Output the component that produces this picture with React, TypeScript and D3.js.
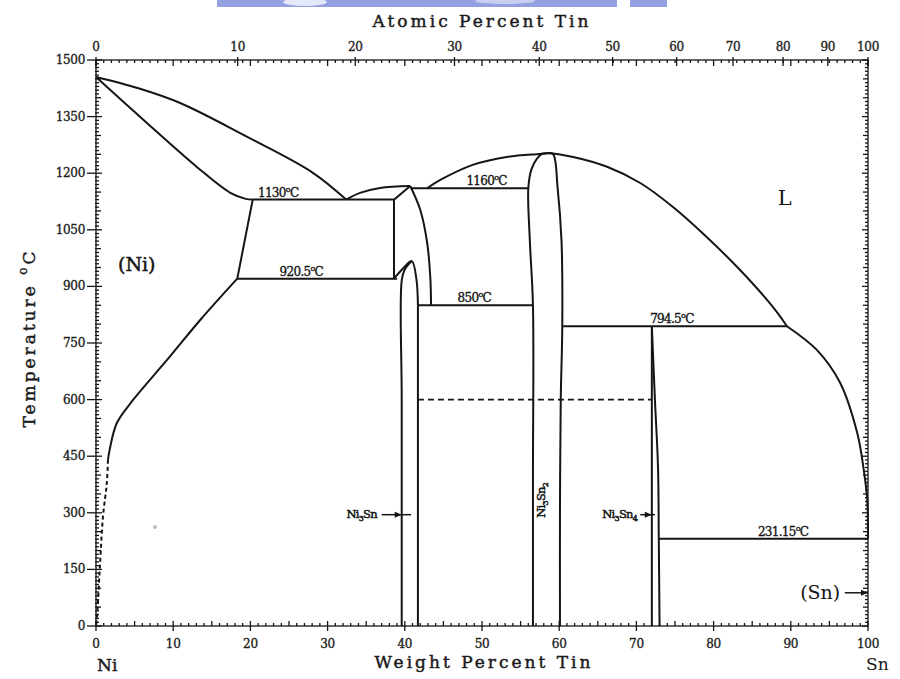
import { useEffect, useRef } from "react";
import * as d3 from "d3";

type Pt = [number, number];

// axis ticks
const weightTicks = [0, 10, 20, 30, 40, 50, 60, 70, 80, 90, 100];
const atomicTicks = [0, 10, 20, 30, 40, 50, 60, 70, 80, 90, 100];
const tempTicks = [0, 150, 300, 450, 600, 750, 900, 1050, 1200, 1350, 1500];

// phase boundaries, [wt% Sn, temperature C]
const niLiquidus: Pt[] = [[0, 1455], [5.5, 1425], [10.9, 1386], [19.6, 1296], [28.1, 1201], [32.4, 1130]];
const niSolidus: Pt[] = [[0, 1455], [6.6, 1333], [13.1, 1216], [17.4, 1148], [19.4, 1132], [20.3, 1130]];
const niSolvusHigh: Pt[] = [[20.3, 1130], [18.3, 920.5]];
const niSolvusLow: Pt[] = [[18.3, 920.5], [13.5, 811], [9.2, 705], [4.8, 599], [2.7, 538], [1.8, 470], [1.55, 440]];
const niSolvusDashed: Pt[] = [[1.55, 440], [1.4, 379], [0.9, 289], [0.5, 156], [0.15, 30], [0, 0]];
const ni3SnLiquidus: Pt[] = [[32.4, 1130], [34.2, 1148], [36.8, 1161], [40.7, 1166]];
const ni3SnHtLeft: Pt[] = [[40.7, 1166], [38.6, 1130], [38.6, 920.5]];
const ni3SnHtRight: Pt[] = [[40.7, 1166], [42.0, 1103], [42.9, 1015], [43.3, 925], [43.4, 850]];
const ni3SnLtOuter: Pt[] = [[38.6, 920.5], [39.8, 948], [40.9, 967], [41.5, 920], [41.7, 850]];
const ni3SnLtRight: Pt[] = [[41.7, 850], [41.7, 0]];
const ni3SnLtInner: Pt[] = [[39.6, 0], [39.6, 600], [39.6, 915], [40.0, 945], [40.9, 967]];
const ni3Sn2Field: Pt[] = [
  [56.6, 0], [56.6, 400], [56.6, 850], [56.2, 1020], [56.0, 1160], [56.4, 1210], [57.1, 1238],
  [57.8, 1251], [58.5, 1253], [59.2, 1251], [59.8, 1160], [60.3, 1020], [60.4, 794.5],
  [60.2, 600], [60.1, 300], [60.1, 0],
];
const ni3Sn2Liquidus: Pt[] = [
  [42.9, 1160], [44.6, 1182], [48.8, 1222], [53.2, 1243], [57.5, 1251], [58.5, 1253],
  [61.8, 1243], [66.2, 1217], [70.5, 1174], [74.7, 1111], [79.1, 1031], [83.4, 944],
  [87.7, 845], [89.5, 794.5],
];
const snLiquidus: Pt[] = [[89.5, 794.5], [93.4, 731], [96.4, 644], [98.6, 512], [99.4, 421], [99.9, 334], [100, 231.9]];
const ni3Sn4Left: Pt[] = [[72.0, 794.5], [72.0, 0]];
const ni3Sn4Right: Pt[] = [[72.0, 794.5], [72.4, 600], [72.8, 420], [72.9, 231], [73.0, 0]];
const dashed600: Pt[] = [[41.7, 600], [72.0, 600]];

// invariant lines: temperature, from, to, label centre (wt%)
const isoTemps = [1130, 920.5, 1160, 850, 794.5, 231.15];
const isoFrom = [20.3, 18.3, 40.9, 41.7, 60.4, 72.9];
const isoTo = [38.6, 39.0, 56.0, 56.6, 89.5, 100];
const isoLabelAt = [23.6, 26.6, 50.6, 49.0, 74.6, 89.0];
const isoLabels = ["1130", "920.5", "1160", "850", "794.5", "231.15"];

const atToWt = (a: number) => (100 * a * 118.71) / (a * 118.71 + (100 - a) * 58.69);

const App = () => {
  const ref = useRef<SVGSVGElement>(null);

  useEffect(() => {
    const svg = d3.select(ref.current);
    svg.selectAll("*").remove();

    const x = d3.scaleLinear().domain([0, 100]).range([96, 868]);
    const y = d3.scaleLinear().domain([0, 1500]).range([626, 60]);
    const ink = "#151515";
    const font = "'DejaVu Serif', serif";

    // blurred logo strip at the very top
    svg.append("rect").attr("x", 217).attr("y", 0).attr("width", 450).attr("height", 7).attr("fill", "#94a0e2");
    svg.append("ellipse").attr("cx", 305).attr("cy", 2).attr("rx", 22).attr("ry", 4).attr("fill", "#e4e8f8");
    svg.append("rect").attr("x", 617).attr("y", 0).attr("width", 13).attr("height", 7).attr("fill", "#fff");
    svg.append("ellipse").attr("cx", 505).attr("cy", 1).attr("rx", 30).attr("ry", 3).attr("fill", "#c9cff1");

    const axes = svg.append("g").attr("stroke", ink).attr("stroke-width", 1.3);
    // frame
    axes.append("rect")
      .attr("x", x(0)).attr("y", y(1500))
      .attr("width", x(100) - x(0)).attr("height", y(0) - y(1500))
      .attr("fill", "none");

    // weight percent ticks (bottom and top)
    d3.range(0, 101, 1).forEach((v) => {
      const big = v % 10 === 0;
      const mid = v % 5 === 0;
      axes.append("line").attr("x1", x(v)).attr("x2", x(v))
        .attr("y1", y(0) + (big ? 5 : 0)).attr("y2", y(0) - (big ? 5 : mid ? 5 : 3));
      axes.append("line").attr("x1", x(v)).attr("x2", x(v))
        .attr("y1", y(1500)).attr("y2", y(1500) + (big ? 6 : 3));
    });
    // atomic percent ticks (top)
    atomicTicks.forEach((a) => {
      axes.append("line").attr("x1", x(atToWt(a))).attr("x2", x(atToWt(a)))
        .attr("y1", y(1500) - 3).attr("y2", y(1500) + 6);
    });
    // temperature ticks (left and right)
    d3.range(0, 1501, 10).forEach((t) => {
      const big = t % 150 === 0;
      const mid = t % 50 === 0;
      axes.append("line").attr("y1", y(t)).attr("y2", y(t))
        .attr("x1", x(0) - (big ? 9 : 1)).attr("x2", x(0) + (big ? 6 : mid ? 5 : 3));
      axes.append("line").attr("y1", y(t)).attr("y2", y(t))
        .attr("x1", x(100)).attr("x2", x(100) - (big ? 6 : mid ? 5 : 3));
    });

    const labels = svg.append("g").attr("font-family", font).attr("fill", "#222")
      .attr("stroke", "#222").attr("stroke-width", 0.35)
      .attr("font-size", 12).attr("letter-spacing", -0.3);
    weightTicks.forEach((v) => {
      labels.append("text").attr("x", x(v)).attr("y", 648).attr("text-anchor", "middle").text(v);
    });
    atomicTicks.forEach((a) => {
      labels.append("text").attr("x", x(atToWt(a))).attr("y", 51).attr("text-anchor", "middle").text(a);
    });
    tempTicks.forEach((t) => {
      labels.append("text").attr("x", 85).attr("y", y(t) + 4).attr("text-anchor", "end").text(t);
    });

    // axis titles
    const titles = svg.append("g").attr("font-family", font).attr("fill", "#1a1a1a")
      .attr("stroke", "#1a1a1a").attr("stroke-width", 0.45)
      .attr("font-size", 17).attr("letter-spacing", 3);
    titles.append("text").attr("x", 482).attr("y", 27).attr("text-anchor", "middle").text("Atomic Percent Tin");
    titles.append("text").attr("x", 484).attr("y", 668).attr("text-anchor", "middle").text("Weight Percent Tin");
    const tt = titles.append("text").attr("transform", "translate(35,338) rotate(-90)").attr("text-anchor", "middle");
    tt.append("tspan").text("Temperature ");
    tt.append("tspan").attr("font-size", 12).attr("dy", -8).text("o");
    tt.append("tspan").attr("dy", 8).text("C");
    svg.append("text").attr("x", 97).attr("y", 671).attr("font-family", font).attr("font-size", 17)
      .attr("stroke", "#1a1a1a").attr("stroke-width", 0.45).attr("fill", "#1a1a1a").text("Ni");
    svg.append("text").attr("x", 866).attr("y", 670).attr("font-family", font).attr("font-size", 17)
      .attr("fill", "#1a1a1a").text("Sn");

    // phase boundaries
    const straight = d3.line<Pt>().x((d) => x(d[0])).y((d) => y(d[1]));
    const smooth = d3.line<Pt>().x((d) => x(d[0])).y((d) => y(d[1])).curve(d3.curveCatmullRom.alpha(0.5));
    const lines = svg.append("g").attr("fill", "none").attr("stroke", ink).attr("stroke-width", 2);

    [niLiquidus, niSolidus, niSolvusLow, ni3SnLiquidus, ni3SnHtRight, ni3SnLtOuter, ni3SnLtInner,
      ni3Sn2Field, ni3Sn2Liquidus, snLiquidus, ni3Sn4Right].forEach((pts) => {
      lines.append("path").attr("d", smooth(pts));
    });
    [niSolvusHigh, ni3SnHtLeft, ni3SnLtRight, ni3Sn4Left].forEach((pts) => {
      lines.append("path").attr("d", straight(pts));
    });
    lines.append("path").attr("d", smooth(niSolvusDashed)).attr("stroke-dasharray", "4,3");
    lines.append("path").attr("d", straight(dashed600)).attr("stroke-dasharray", "6,4").attr("stroke-width", 1.6);

    isoTemps.forEach((t, i) => {
      lines.append("line").attr("x1", x(isoFrom[i])).attr("x2", x(isoTo[i]))
        .attr("y1", y(t)).attr("y2", y(t));
    });

    // isotherm labels
    const small = svg.append("g").attr("font-family", font).attr("fill", ink).attr("font-size", 12)
      .attr("stroke", ink).attr("stroke-width", 0.35).attr("letter-spacing", -0.7);
    isoTemps.forEach((t, i) => {
      const txt = small.append("text").attr("x", x(isoLabelAt[i])).attr("y", y(t) - 3)
        .attr("text-anchor", "middle");
      txt.append("tspan").text(isoLabels[i]);
      txt.append("tspan").attr("font-size", 8).attr("dy", -5).text("o");
      txt.append("tspan").attr("dy", 5).text("C");
    });

    // phase labels
    const big = svg.append("g").attr("font-family", font).attr("fill", ink).attr("font-size", 19);
    big.append("text").attr("x", x(2.85)).attr("y", y(941)).attr("stroke", ink).attr("stroke-width", 0.5).text("(Ni)");
    big.append("text").attr("x", x(88.3)).attr("y", y(1116)).attr("font-size", 21).text("L");
    big.append("text").attr("x", x(96.4)).attr("y", y(72)).attr("text-anchor", "end").text("(Sn)");

    const compound = (px: number, py: number, sub: string, tail: string, anchor: string, rot = false) => {
      const t = small.append("text").attr("text-anchor", anchor).attr("font-size", 11.5)
        .attr("stroke-width", 0.5);
      if (rot) t.attr("transform", `translate(${px},${py}) rotate(-90)`);
      else t.attr("x", px).attr("y", py);
      t.append("tspan").text("Ni");
      t.append("tspan").attr("font-size", 8).attr("dy", 3).text(sub);
      t.append("tspan").attr("dy", -3).text("Sn");
      if (tail) {
        t.append("tspan").attr("font-size", 8).attr("dy", 3).text(tail);
      }
    };
    compound(x(36.4), y(285), "3", "", "end");
    compound(x(70.1), y(285), "3", "4", "end");
    compound(x(58.1), y(333), "3", "2", "middle", true);

    // arrows
    const arrow = (fromW: number, tipW: number, endW: number, t: number) => {
      lines.append("line").attr("x1", x(fromW)).attr("x2", x(endW)).attr("y1", y(t)).attr("y2", y(t))
        .attr("stroke-width", 1.5);
      const tx = x(tipW);
      const ty = y(t);
      svg.append("path").attr("d", `M${tx},${ty}L${tx - 7},${ty - 3}L${tx - 7},${ty + 3}Z`).attr("fill", ink);
    };
    arrow(37.0, 39.6, 40.8, 295);
    arrow(70.5, 72.0, 72.4, 295);
    arrow(97.0, 100, 100, 88);

    // stray speck in the scan
    svg.append("circle").attr("cx", 155).attr("cy", 527).attr("r", 2).attr("fill", "#bbb");
  }, []);

  return (
    <svg
      ref={ref}
      width={900}
      height={679}
      style={{ position: "absolute", left: 0, top: 0, background: "#fff", display: "block" }}
    />
  );
};

export default App;
